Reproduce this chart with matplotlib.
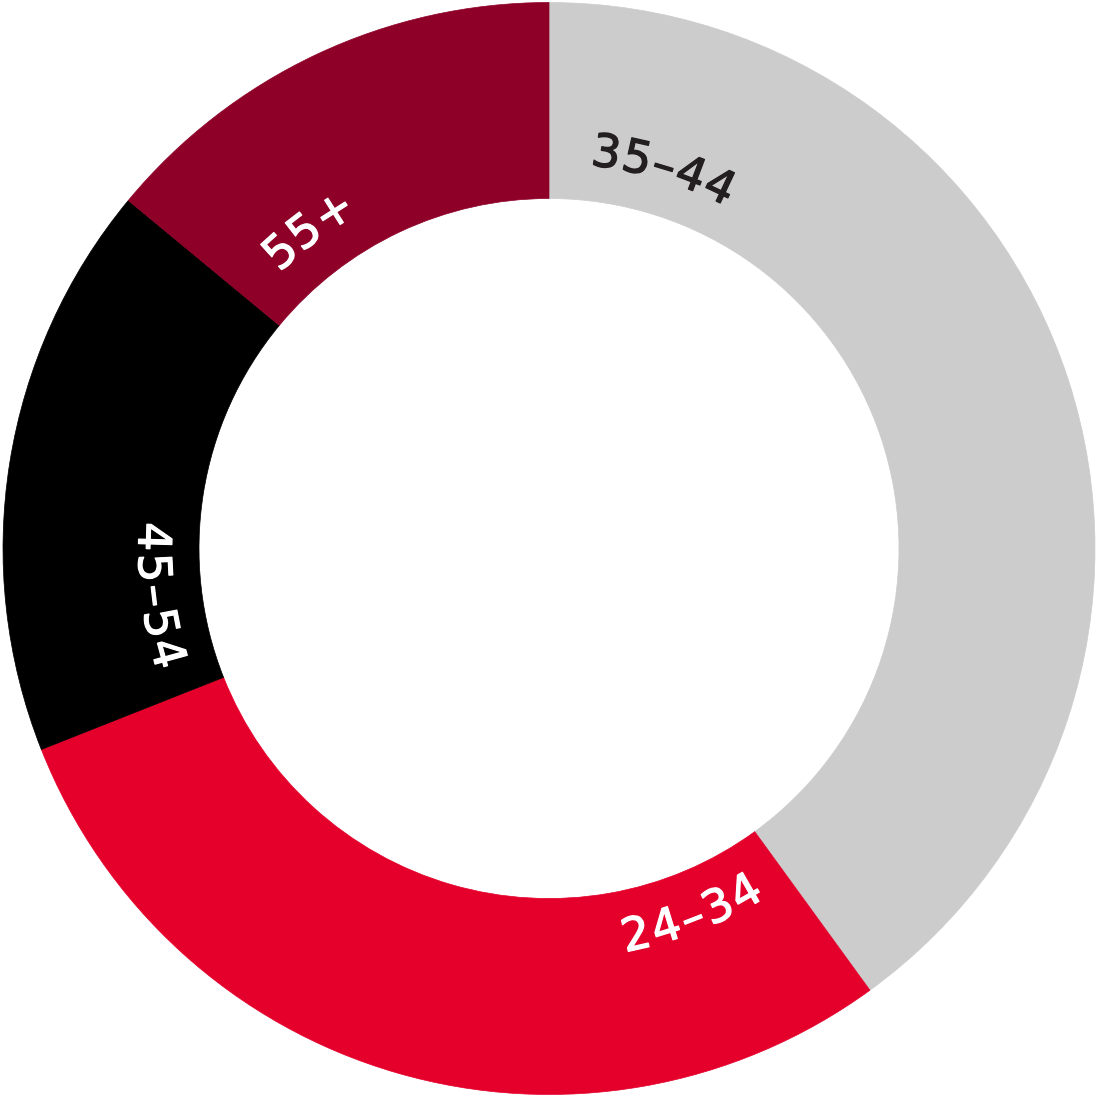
import numpy as np
import matplotlib
matplotlib.use("Agg")
import matplotlib.pyplot as plt
from matplotlib.patches import Wedge
from matplotlib.textpath import TextPath
from matplotlib.font_manager import FontProperties
import matplotlib.patheffects as pe

labels = ["35–44", "24–34", "45–54", "55+"]
values = [40, 29, 17, 14]
colors = ["#cccccc", "#e4002b", "#000000", "#8e0028"]
text_colors = ["#231f20", "#ffffff", "#ffffff", "#ffffff"]

W, H, DPI = 1098, 1097, 100
R_PX = 546.0
fig = plt.figure(figsize=(W / DPI, H / DPI), dpi=DPI)
ax = fig.add_axes([0, 0, 1, 1])
ax.set_xlim(-(W / 2) / R_PX, (W / 2) / R_PX)
ax.set_ylim(-(H / 2) / R_PX, (H / 2) / R_PX)
ax.set_aspect("equal")
ax.axis("off")

outer = 1.0
inner = 350.0 / R_PX
r_text = 398.0 / R_PX
fs = 33
fp = FontProperties(family="DejaVu Sans", size=fs)
spacing = 2.0 / R_PX

total = float(sum(values))
start = 90.0
for lab, v, c, tc in zip(labels, values, colors, text_colors):
    span = 360.0 * v / total
    end = start - span
    ax.add_patch(Wedge((0, 0), outer, end, start, width=outer - inner,
                       facecolor=c, edgecolor=c, linewidth=0.5))
    widths = []
    for ch in lab:
        adv = TextPath((0, 0), "|" + ch + "|", prop=fp).get_extents().width - \
            TextPath((0, 0), "||", prop=fp).get_extents().width
        widths.append(adv * DPI / 72.0 / R_PX + spacing)
    total_ang = np.degrees(sum(widths) / r_text)
    effects = [pe.withStroke(linewidth=0.9, foreground=tc, capstyle="round", joinstyle="round")]
    a0 = start - 6.0
    mid = a0 - total_ang / 2.0
    rot_cw = ((mid - 90.0 + 180.0) % 360.0) - 180.0
    flip = abs(rot_cw) > 90
    if not flip:
        cur = a0
        for ch, w in zip(lab, widths):
            d = np.degrees(w / r_text)
            th = cur - d / 2.0
            ax.text(r_text * np.cos(np.radians(th)), r_text * np.sin(np.radians(th)),
                    ch, rotation=th - 90.0, rotation_mode="anchor",
                    ha="center", va="center", fontproperties=fp, color=tc,
                    path_effects=effects)
            cur -= d
    else:
        a0 = start - 4.0
        cur = a0 - total_ang
        for ch, w in zip(lab, widths):
            d = np.degrees(w / r_text)
            th = cur + d / 2.0
            ax.text(r_text * np.cos(np.radians(th)), r_text * np.sin(np.radians(th)),
                    ch, rotation=th + 90.0, rotation_mode="anchor",
                    ha="center", va="center", fontproperties=fp, color=tc,
                    path_effects=effects)
            cur += d
    start = end

fig.savefig("out.png", dpi=DPI, facecolor="white")
